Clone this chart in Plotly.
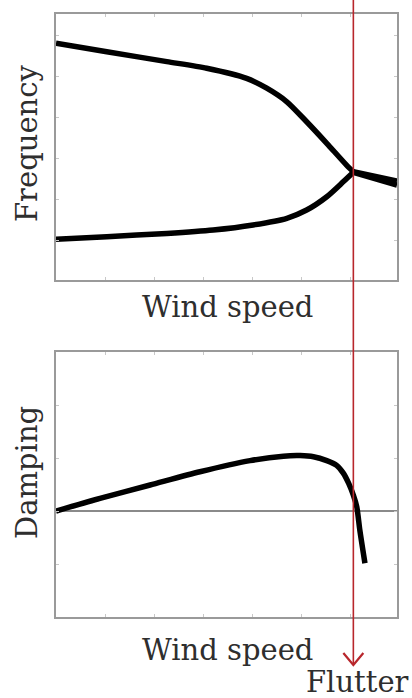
import plotly.graph_objects as go

# ---- data (arbitrary units) ----
wind_upper = [0.0, 1.49, 3.25, 4.42, 5.59, 6.18, 6.77, 7.35, 7.94, 8.52, 8.72]
freq_upper = [8.90, 8.58, 8.21, 7.96, 7.58, 7.21, 6.70, 5.95, 5.14, 4.32, 4.07]
wind_lower = [0.0, 1.49, 3.25, 4.61, 5.78, 6.77, 7.35, 7.94, 8.43, 8.72]
freq_lower = [1.53, 1.63, 1.75, 1.88, 2.07, 2.32, 2.63, 3.13, 3.70, 4.05]
wind_merged = [8.72, 10.0]
freq_merged_a = [4.07, 3.72]
freq_merged_b = [4.05, 3.57]

wind_damp = [0.0, 1.29, 2.76, 4.22, 5.69, 6.67, 7.16, 7.55, 7.94, 8.23, 8.43, 8.58, 8.72, 8.82, 8.91, 9.06]
damping = [0.0, 0.48, 0.98, 1.48, 1.90, 2.07, 2.09, 2.05, 1.90, 1.72, 1.42, 1.05, 0.60, 0.16, -0.72, -1.97]

flutter_speed = 8.72
x_range = [0, 10]
freq_range = [0, 10]
damp_range = [-4, 6]

W, H = 412, 698
xdom = [56 / W, 397 / W]
ydom_top = [1 - 280 / H, 1 - 14 / H]
ydom_bot = [1 - 617 / H, 1 - 352 / H]

line_style = dict(color="black", width=5.5)
fig = go.Figure()
for xs, ys, ax in [
    (wind_upper, freq_upper, ("x", "y")),
    (wind_lower, freq_lower, ("x", "y")),
    (wind_merged, freq_merged_a, ("x", "y")),
    (wind_merged, freq_merged_b, ("x", "y")),
    (wind_damp, damping, ("x2", "y2")),
]:
    fig.add_trace(go.Scatter(x=xs, y=ys, mode="lines", line=dict(line_style, shape="spline", smoothing=0.7),
                             xaxis=ax[0], yaxis=ax[1], showlegend=False, hoverinfo="skip"))

axis_common = dict(showline=True, mirror="allticks", linecolor="#9a9a9a", linewidth=1.5,
                   showgrid=False, zeroline=False, showticklabels=False,
                   ticks="inside", ticklen=3, tickcolor="#c8c8c8", tickwidth=1)

fig.update_layout(
    width=W, height=H, margin=dict(l=0, r=0, t=0, b=0),
    plot_bgcolor="white", paper_bgcolor="white",
    xaxis=dict(axis_common, domain=xdom, range=x_range, anchor="y", tick0=0, dtick=1.44),
    yaxis=dict(axis_common, domain=ydom_top, range=freq_range, anchor="x", tick0=1.5, dtick=1.54),
    xaxis2=dict(axis_common, domain=xdom, range=x_range, anchor="y2", tick0=0, dtick=1.44),
    yaxis2=dict(axis_common, domain=ydom_bot, range=damp_range, anchor="x2", tick0=0, dtick=2,
                zeroline=True, zerolinecolor="#8a8a8a", zerolinewidth=1.5),
)

# flutter marker line, positioned from the data value through the axis domain
fx = xdom[0] + (flutter_speed - x_range[0]) / (x_range[1] - x_range[0]) * (xdom[1] - xdom[0])
y_tip = 33 / H
red = "#b8262c"
fig.add_shape(type="line", xref="paper", yref="paper", x0=fx, x1=fx, y0=y_tip, y1=1.0,
              line=dict(color=red, width=1.6))
dx, dy = 10 / W, 12 / H
fig.add_shape(type="path", xref="paper", yref="paper",
              path=f"M {fx-dx} {y_tip+dy} L {fx} {y_tip} L {fx+dx} {y_tip+dy}",
              line=dict(color=red, width=2.2))

font = dict(family="DejaVu Serif", size=29, color="#2e2e2e")
ann = [
    dict(text="Frequency", x=27 / W, y=1 - 144 / H, textangle=-90),
    dict(text="Damping", x=27 / W, y=1 - 473 / H, textangle=-90),
    dict(text="Wind speed", x=227 / W, y=1 - 307 / H),
    dict(text="Wind speed", x=227 / W, y=1 - 650 / H),
    dict(text="Flutter", x=357 / W, y=1 - 682 / H),
]
for a in ann:
    fig.add_annotation(xref="paper", yref="paper", showarrow=False, font=font,
                       xanchor="center", yanchor="middle", **a)

fig.write_html("out.html")
